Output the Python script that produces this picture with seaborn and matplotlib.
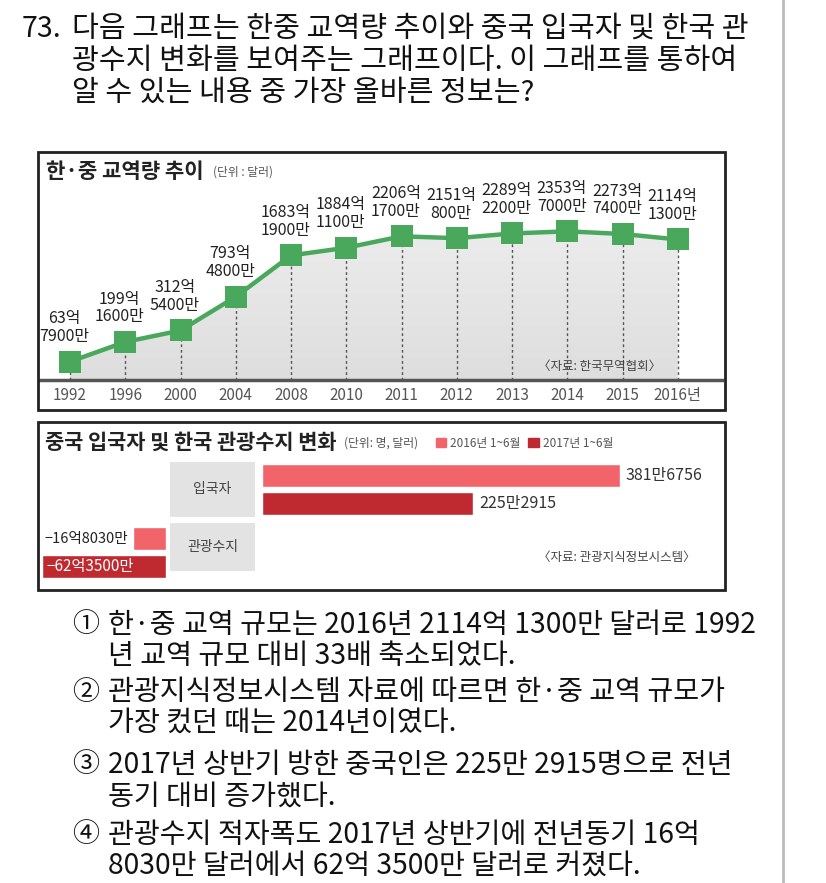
import numpy as np
import matplotlib
matplotlib.use('Agg')
import matplotlib.pyplot as plt
from matplotlib.patches import Rectangle, Patch
from matplotlib.colors import LinearSegmentedColormap
import pandas as pd
import seaborn as sns

# 한·중 교역량 (억 달러)
years = ['1992', '1996', '2000', '2004', '2008', '2010', '2011', '2012', '2013', '2014', '2015', '2016년']
trade = [63.79, 199.16, 312.54, 793.48, 1683.19, 1884.11, 2206.17, 2151.08, 2289.22, 2353.70, 2273.74, 2114.13]
trade_labels = ['63억\n7900만', '199억\n1600만', '312억\n5400만', '793억\n4800만', '1683억\n1900만',
                '1884억\n1100만', '2206억\n1700만', '2151억\n800만', '2289억\n2200만', '2353억\n7000만',
                '2273억\n7400만', '2114억\n1300만']

# 중국 입국자 / 관광수지
periods = ['2016년 1~6월', '2017년 1~6월']
visitors = [3816756, 2252915]
visitor_labels = ['381만6756', '225만2915']
balance = [-16.803, -62.35]  # 억 달러
balance_labels = ['−16억8030만', '−62억3500만']

question = ['다음 그래프는 한중 교역량 추이와 중국 입국자 및 한국 관',
            '광수지 변화를 보여주는 그래프이다. 이 그래프를 통하여',
            '알 수 있는 내용 중 가장 올바른 정보는?']
options = [('①', '한·중 교역 규모는 2016년 2114억 1300만 달러로 1992', '년 교역 규모 대비 33배 축소되었다.'),
           ('②', '관광지식정보시스템 자료에 따르면 한·중 교역 규모가', '가장 컸던 때는 2014년이였다.'),
           ('③', '2017년 상반기 방한 중국인은 225만 2915명으로 전년', '동기 대비 증가했다.'),
           ('④', '관광수지 적자폭도 2017년 상반기에 전년동기 16억', '8030만 달러에서 62억 3500만 달러로 커졌다.')]

sns.set_theme(style='white')
plt.rcParams['font.family'] = ['Noto Sans CJK KR', 'DejaVu Sans']

GREEN = '#4aa85c'
PINK = '#f0646a'
RED = '#bf2a31'

W, H = 826, 883
fig = plt.figure(figsize=(W / 100, H / 100), dpi=100)


def rect(x0, y0, x1, y1):
    return [x0 / W, 1 - y1 / H, (x1 - x0) / W, (y1 - y0) / H]


def fx(x):
    return x / W


def fy(y):
    return 1 - y / H


# question text
fig.text(fx(22), fy(29), '73.', fontsize=20.5, va='center', color='#111')
for i, line in enumerate(question):
    fig.text(fx(72), fy(29 + 32 * i), line, fontsize=21, va='center', color='#111')

# right page rule
fig.add_artist(plt.Line2D([fx(783), fx(783)], [0, 1], color='#bbbbbb', lw=2))

# ---- line chart ----
fig.add_artist(Rectangle((fx(38), fy(410)), (725 - 38) / W, (410 - 152) / H, transform=fig.transFigure,
                         fill=False, edgecolor='#222222', lw=2))
ax = fig.add_axes(rect(40, 155, 722, 380))
pos = np.arange(len(years))
y0, y1 = 5.2, 5220

poly = ax.fill_between(pos, trade, y0, color='none', lw=0)
cmap = LinearSegmentedColormap.from_list('fill', ['#f3f3f3', '#dedede'])
grad = ax.imshow(np.linspace(0, 1, 256).reshape(-1, 1), cmap=cmap, extent=[0, 1, 0, 1],
                 transform=ax.transAxes, aspect='auto', zorder=0)
grad.set_clip_path(poly.get_paths()[0], transform=ax.transData)

ax.vlines(pos, y0, trade, colors='#555555', linestyles=(0, (2, 2)), lw=1, zorder=1)
sns.lineplot(x=pos, y=trade, ax=ax, color=GREEN, lw=3.2, marker='s', markersize=16,
             markeredgewidth=0, zorder=3)
ax.set_yscale('function', functions=(np.sqrt, np.square))
ax.set_ylim(y0, y1)
ax.set_xlim(-0.543, 11.8)
ax.patch.set_alpha(0)
for s in ['top', 'right', 'left']:
    ax.spines[s].set_visible(False)
ax.spines['bottom'].set_color('#555555')
ax.spines['bottom'].set_linewidth(2.5)
ax.set_yticks([])
ax.set_xticks(pos)
ax.set_xticklabels(years, fontsize=11, color='#555555')
ax.tick_params(axis='x', length=0, pad=5)
ax.set_xlabel('')

for p, v, lab in zip(pos, trade, trade_labels):
    ax.annotate(lab, (p, v), xytext=(-4, 12), textcoords='offset points', ha='center', va='bottom',
                fontsize=11.5, color='#222222', linespacing=1.05, zorder=4)

fig.text(fx(46), fy(171), '한·중 교역량 추이', fontsize=15.2, fontweight='bold', va='center', color='#222')
fig.text(fx(213), fy(172), '(단위 : 달러)', fontsize=8.5, va='center', color='#555')
fig.text(fx(538), fy(366), '〈자료: 한국무역협회〉', fontsize=9, va='center', color='#444')

# ---- bar chart ----
fig.add_artist(Rectangle((fx(38), fy(590)), (725 - 38) / W, (590 - 422) / H, transform=fig.transFigure,
                         fill=False, edgecolor='#222222', lw=2))
fig.text(fx(45), fy(442), '중국 입국자 및 한국 관광수지 변화', fontsize=15, fontweight='bold',
         va='center', color='#222')
fig.text(fx(344), fy(443), '(단위: 명, 달러)', fontsize=8.5, va='center', color='#555')
fig.legend(handles=[Patch(color=PINK, label=periods[0]), Patch(color=RED, label=periods[1])],
           loc='center left', bbox_to_anchor=(fx(425), fy(443)), ncol=2, frameon=False,
           fontsize=8.5, handlelength=0.9, handleheight=0.9, handletextpad=0.3, columnspacing=0.7,
           labelcolor='#555')

for (a, b, c, d), txt in [((170, 462, 255, 517), '입국자'), ((170, 523, 255, 571), '관광수지')]:
    fig.add_artist(Rectangle((fx(a), fy(d)), (c - a) / W, (d - b) / H, transform=fig.transFigure,
                             color='#e3e3e3', lw=0))
    fig.text(fx((a + c) / 2), fy((b + d) / 2), txt, fontsize=10, ha='center', va='center', color='#444')

df_in = pd.DataFrame({'period': periods, 'value': visitors})
ax_in = fig.add_axes(rect(262, 461.5, 720, 517.5))
sns.barplot(data=df_in, x='value', y='period', hue='period', palette=[PINK, RED], width=0.82,
            saturation=1, legend=False, orient='h', ax=ax_in)
ax_in.set_xlim(0, 4.88e6)
ax_in.axis('off')
for i, (v, lab) in enumerate(zip(visitors, visitor_labels)):
    ax_in.annotate(lab, (v, i), xytext=(4, 0), textcoords='offset points', va='center',
                   fontsize=11.5, color='#333')

df_bal = pd.DataFrame({'period': periods, 'value': balance})
ax_bal = fig.add_axes(rect(40, 524.5, 166, 580.5))
sns.barplot(data=df_bal, x='value', y='period', hue='period', palette=[PINK, RED], width=0.82,
            saturation=1, legend=False, orient='h', ax=ax_bal)
ax_bal.set_xlim(-63.4, 0)
ax_bal.axis('off')
ax_bal.annotate(balance_labels[0], (balance[0], 0), xytext=(-3, 0), textcoords='offset points',
                ha='right', va='center', fontsize=10.5, color='#222')
ax_bal.annotate(balance_labels[1], (balance[1], 1), xytext=(3, 0), textcoords='offset points',
                ha='left', va='center', fontsize=11, color='white')

fig.text(fx(538), fy(557), '〈자료: 관광지식정보시스템〉', fontsize=9, va='center', color='#444')

# ---- options ----
opt_y = [(625, 656), (692, 723), (765, 797), (835, 866)]
for (num, l1, l2), (ya, yb) in zip(options, opt_y):
    fig.text(fx(72), fy(ya), num, fontsize=19.5, va='center', color='#111')
    fig.text(fx(108), fy(ya), l1, fontsize=20.3, va='center', color='#111')
    fig.text(fx(108), fy(yb), l2, fontsize=20.3, va='center', color='#111')

fig.savefig('out.png', dpi=100)
